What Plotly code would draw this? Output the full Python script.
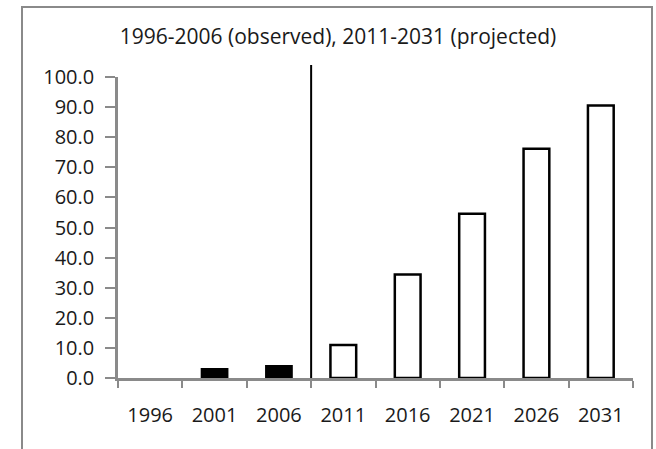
import plotly.graph_objects as go

years = ["1996", "2001", "2006", "2011", "2016", "2021", "2026", "2031"]
observed_years = ["1996", "2001", "2006"]
observed_values = [None, 3.0, 4.0]
projected_years = ["2011", "2016", "2021", "2026", "2031"]
projected_values = [11.0, 34.4, 54.6, 76.2, 90.5]
y_ticks = [0, 10, 20, 30, 40, 50, 60, 70, 80, 90, 100]
y_tick_labels = [f"{v:.1f}" for v in y_ticks]
title_text = "1996-2006 (observed), 2011-2031 (projected)"

FONT = "Open Sans"
GREY = "#8a8a8a"

fig = go.Figure()
fig.add_trace(go.Bar(
    x=observed_years, y=observed_values, width=0.4,
    marker=dict(color="black", line=dict(color="black", width=2)),
    showlegend=False,
))
fig.add_trace(go.Bar(
    x=projected_years, y=projected_values, width=0.4,
    marker=dict(color="white", line=dict(color="black", width=2.5)),
    showlegend=False,
))

# divider between observed and projected periods (boundary between 2006 and 2011)
fig.add_shape(type="line", xref="x", yref="paper",
              x0=2.5, x1=2.5, y0=0, y1=1.04,
              line=dict(color="black", width=2))

# outer frame
fig.add_shape(type="rect", xref="paper", yref="paper",
              x0=-0.1864, x1=1.0369, y0=-0.26, y1=1.2326,
              line=dict(color=GREY, width=2), fillcolor="rgba(0,0,0,0)")

fig.update_layout(
    width=656, height=449,
    margin=dict(l=118, r=23, t=77, b=71),
    paper_bgcolor="white", plot_bgcolor="white",
    barmode="overlay",
    font=dict(family=FONT, color="#1a1a1a"),
    title=dict(text=title_text, x=338/656, xanchor="center",
               y=1-37/449, yanchor="middle",
               font=dict(family=FONT, size=21, color="#1a1a1a")),
    xaxis=dict(
        type="category", categoryorder="array", categoryarray=years,
        range=[-0.5, 7.5], tickson="boundaries",
        showline=True, linecolor=GREY, linewidth=2.5,
        ticks="outside", ticklen=7, tickwidth=2, tickcolor=GREY,
        ticklabelstandoff=17,
        showgrid=False, zeroline=False,
        tickfont=dict(family=FONT, size=20, color="#1a1a1a"),
    ),
    yaxis=dict(
        range=[0, 100], tickvals=y_ticks, ticktext=y_tick_labels,
        showline=True, linecolor=GREY, linewidth=2.5,
        ticks="outside", ticklen=10, tickwidth=2, tickcolor=GREY,
        ticklabelstandoff=7,
        showgrid=False, zeroline=False,
        tickfont=dict(family=FONT, size=20, color="#1a1a1a"),
    ),
)

fig.write_html("out.html",
               config={"displayModeBar": False},
               post_script="document.body.style.margin='0';document.body.style.overflow='hidden';")
